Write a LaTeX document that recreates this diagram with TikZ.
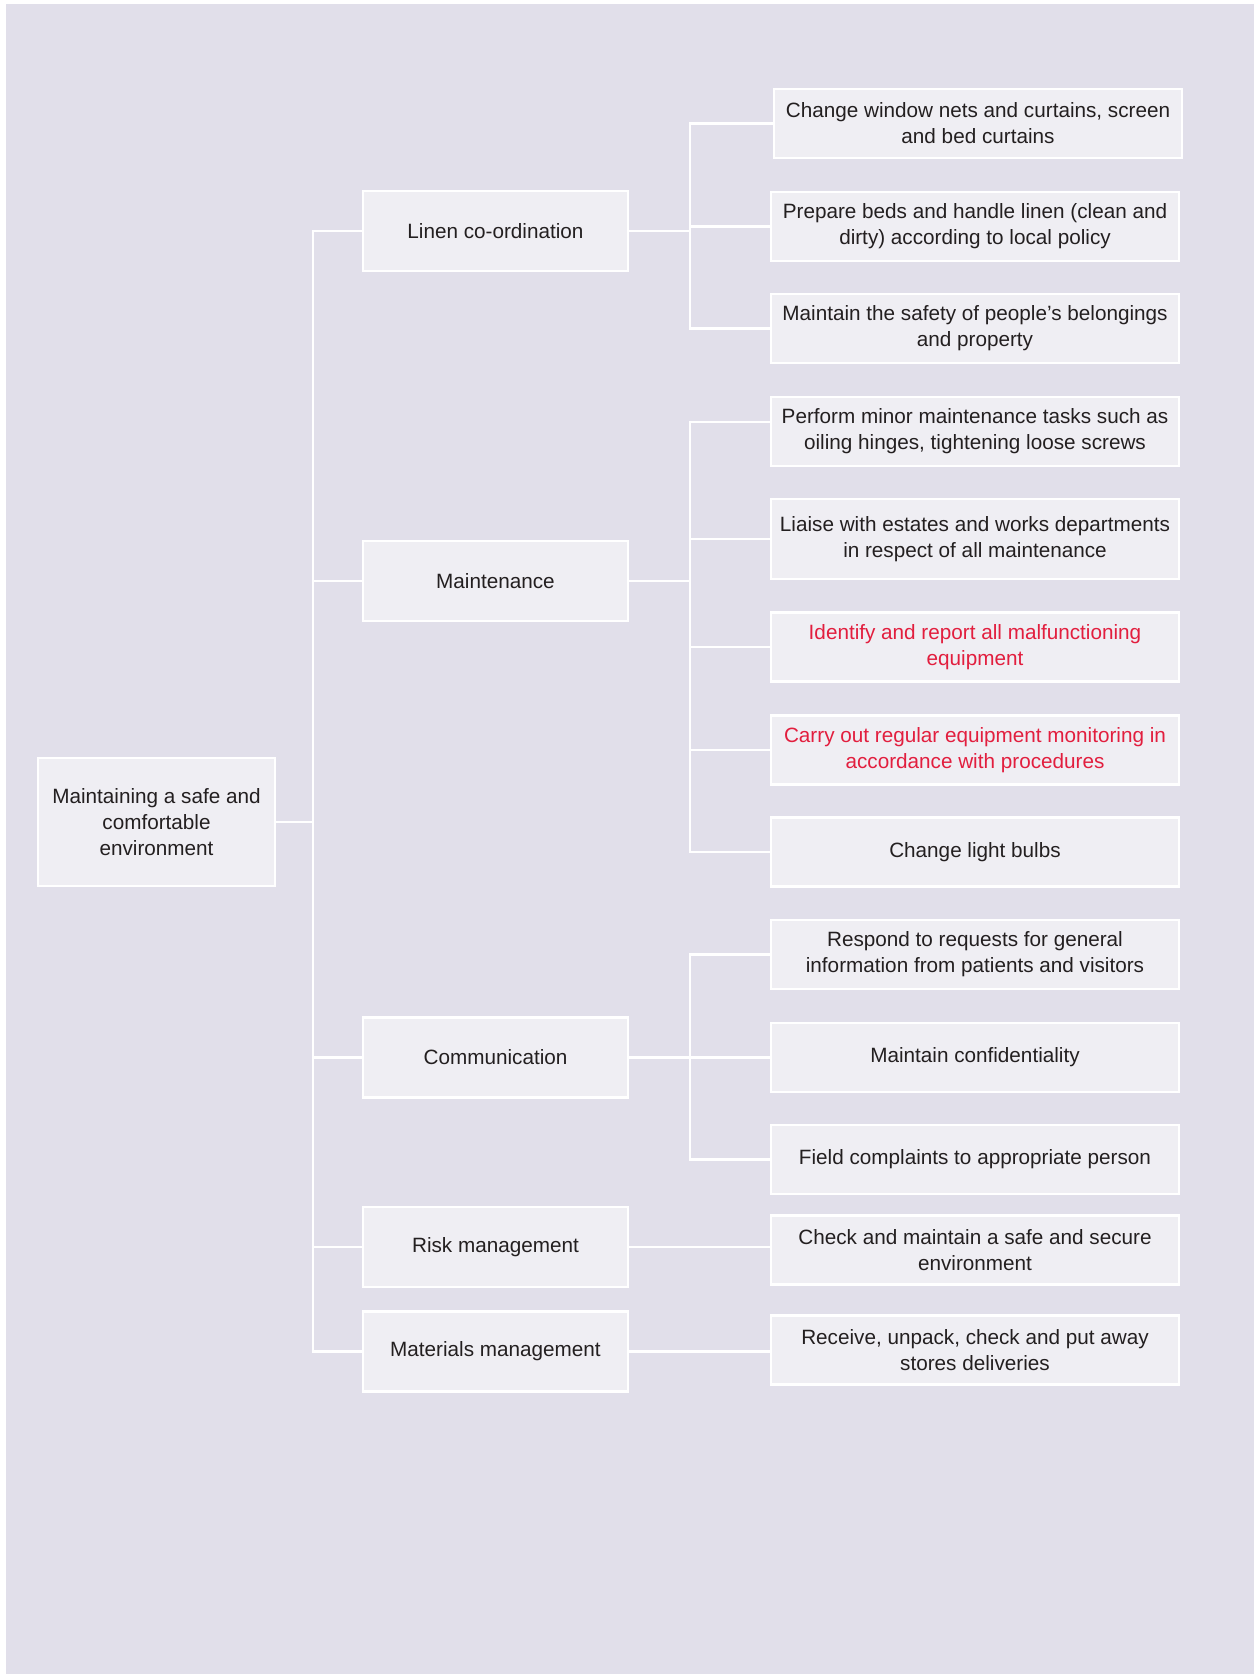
\documentclass[tikz,border=0pt]{standalone}
\usepackage{fontspec}
\setmainfont{Liberation Sans}
\definecolor{bgc}{RGB}{225,223,234}
\definecolor{boxc}{RGB}{239,238,243}
\definecolor{txtc}{RGB}{35,31,32}
\definecolor{redc}{RGB}{226,30,62}
\begin{document}
\begin{tikzpicture}[x=1pt,y=-1pt,
  box/.style={draw=white, line width=2.6pt, fill=boxc, align=center, inner sep=0pt,
    font=\fontsize{20.7}{26}\selectfont, text=txtc},
  leaf/.style={box, minimum width=408pt, minimum height=69pt},
  midbox/.style={box, minimum width=265pt, minimum height=80pt},
  conn/.style={draw=white, line width=2.6pt},
  redtext/.style={text=redc}]
\useasboundingbox (0,0) rectangle (1254,1674);
\fill[white] (0,0) rectangle (1254,1674);
\fill[bgc] (6,4) rectangle (1254,1674);

% root
\node[box, minimum width=237pt, minimum height=128pt] (root) at (156.5,822) {Maintaining a safe and\\comfortable\\environment};

% middle level
\node[midbox] (linen) at (495.5,231) {Linen co-ordination};
\node[midbox] (maint) at (495.5,581) {Maintenance};
\node[midbox] (comm)  at (495.5,1057.5) {Communication};
\node[midbox] (risk)  at (495.5,1247) {Risk management};
\node[midbox] (mat)   at (495.5,1351.5) {Materials management};

% leaves
\node[leaf] (l1) at (978,123.5) {Change window nets and curtains, screen\\and bed curtains};
\node[leaf] (l2) at (975,226.5) {Prepare beds and handle linen (clean and\\dirty) according to local policy};
\node[leaf] (l3) at (975,328.5) {Maintain the safety of people’s belongings\\and property};
\node[leaf] (l4) at (975,431.5) {Perform minor maintenance tasks such as\\oiling hinges, tightening loose screws};
\node[leaf, minimum height=80pt] (l5) at (975,539) {Liaise with estates and works departments\\in respect of all maintenance};
\node[leaf, redtext] (l6) at (975,647) {Identify and report all malfunctioning\\equipment};
\node[leaf, redtext] (l7) at (975,750) {Carry out regular equipment monitoring in\\accordance with procedures};
\node[leaf] (l8) at (975,852) {Change light bulbs};
\node[leaf] (l9) at (975,954.5) {Respond to requests for general\\information from patients and visitors};
\node[leaf] (l10) at (975,1057.5) {Maintain confidentiality};
\node[leaf] (l11) at (975,1159.5) {Field complaints to appropriate person};
\node[leaf] (l12) at (975,1250) {Check and maintain a safe and secure\\environment};
\node[leaf] (l13) at (975,1350) {Receive, unpack, check and put away\\stores deliveries};

% junction coordinates
\coordinate (jr) at (313,822);
\coordinate (jl) at (690,231);
\coordinate (jm) at (690,581);
\coordinate (jc) at (690,1057.5);

% trunk
\draw[conn] (root.east) -- (jr);
\foreach \m in {linen,maint,comm,risk,mat} \draw[conn] (jr) |- (\m.west);

% linen group
\draw[conn] (linen.east) -- (jl);
\foreach \l in {l1,l2,l3} \draw[conn] (jl) |- (\l.west);

% maintenance group
\draw[conn] (maint.east) -- (jm);
\draw[conn] (jm) |- ([yshift=9.5pt]l4.west);
\foreach \l in {l5,l6,l7,l8} \draw[conn] (jm) |- (\l.west);

% communication group
\draw[conn] (comm.east) -- (jc);
\foreach \l in {l9,l10,l11} \draw[conn] (jc) |- (\l.west);

% single links
\draw[conn] (risk.east) -- (risk.east -| l12.west);
\draw[conn] (mat.east) -- (mat.east -| l13.west);
\end{tikzpicture}
\end{document}
